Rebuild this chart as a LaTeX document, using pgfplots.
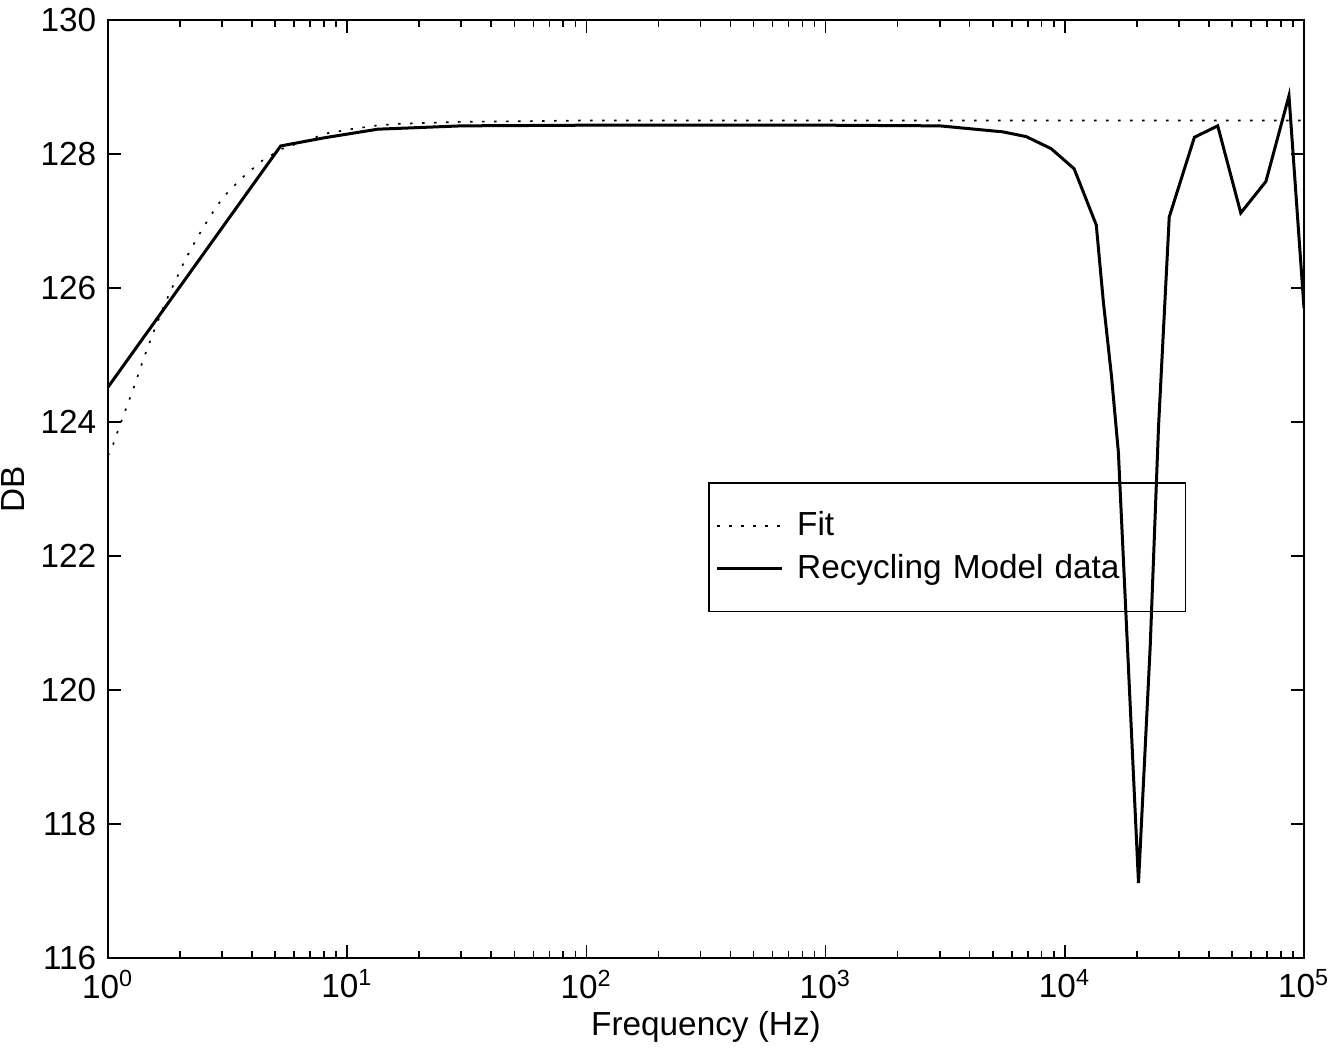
\documentclass[border=0pt]{standalone}
\usepackage{pgfplots}
\pgfplotsset{compat=1.18}
\usepackage{fontspec}
\setmainfont{Liberation Sans}
\begin{document}
\fontsize{10pt}{12pt}\selectfont
\begin{tikzpicture}
\useasboundingbox (-32.4pt,-29.1pt) rectangle (369.6pt,287.4pt);
\begin{axis}[
  at={(0pt,0pt)}, anchor=south west,
  scale only axis, width=358.8pt, height=281.4pt,
  xmode=log, xmin=1, xmax=1e5, ymin=116, ymax=130,
  xtick={1,10,100,1000,10000,100000},
  xticklabels={10\textsuperscript{0},10\textsuperscript{1},10\textsuperscript{2},10\textsuperscript{3},10\textsuperscript{4},10\textsuperscript{5}},
  ytick={116,118,...,130},
  /pgf/number format/assume math mode=true,
  yticklabel style={/pgf/number format/fixed},
  tick align=inside,
  major tick length=4pt, minor tick length=2.2pt,
  every tick/.style={black, line width=0.5pt},
  axis line style={line width=0.6pt},
  xlabel={Frequency (Hz)}, ylabel={DB},
  xlabel style={yshift=3pt}, ylabel style={yshift=-2pt},
  tick label style={font=\fontsize{10pt}{12pt}\selectfont},
  label style={font=\fontsize{10pt}{12pt}\selectfont},
  legend image code/.code={\draw[#1] (0pt,0pt) -- (19.5pt,0pt);},
  legend style={at={(0.502,0.507)}, anchor=north west, draw=black, fill=none, line width=0.5pt,
    inner xsep=2pt, inner ysep=6.5pt, row sep=0pt,
    nodes={text width=110.5pt, align=left, inner xsep=4pt, font=\fontsize{10pt}{12pt}\selectfont}},
  legend cell align=left,
]
\addplot[black, line width=0.5pt, dash pattern=on 0.7pt off 2.9pt] coordinates {
(1,123.5)(1.036,123.6)(1.115,123.93)(1.21,124.27)(1.31,124.61)(1.41,124.95)
(1.53,125.29)(1.73,125.77)(1.91,126.1)(2.10,126.42)(2.36,126.75)(2.65,127.05)
(3.02,127.35)(3.60,127.63)(4.37,127.89)(5.27,128.07)(6.59,128.19)(8.27,128.31)
(10.35,128.37)(12.9,128.42)(16.3,128.45)(30,128.48)(100,128.5)(1000,128.5)(100000,128.5)
};
\addlegendentry{Fit}
\addplot[black, line width=0.9pt] coordinates {
(1,124.52)(5.27,128.12)(7.97,128.24)(13.4,128.37)(30,128.42)(100,128.43)
(1000,128.43)(3000,128.42)(5520,128.33)(6890,128.26)(8770,128.08)(10940,127.78)
(13540,126.94)(14490,125.8)(15670,124.69)(16750,123.55)(20330,117.12)(22760,120.66)
(24650,123.93)(27330,127.06)(34820,128.25)(43590,128.42)(54410,127.12)(69310,127.59)
(86540,128.87)(100000,125.7)
};
\addlegendentry{Recycling Model data}
\end{axis}
\end{tikzpicture}
\end{document}
